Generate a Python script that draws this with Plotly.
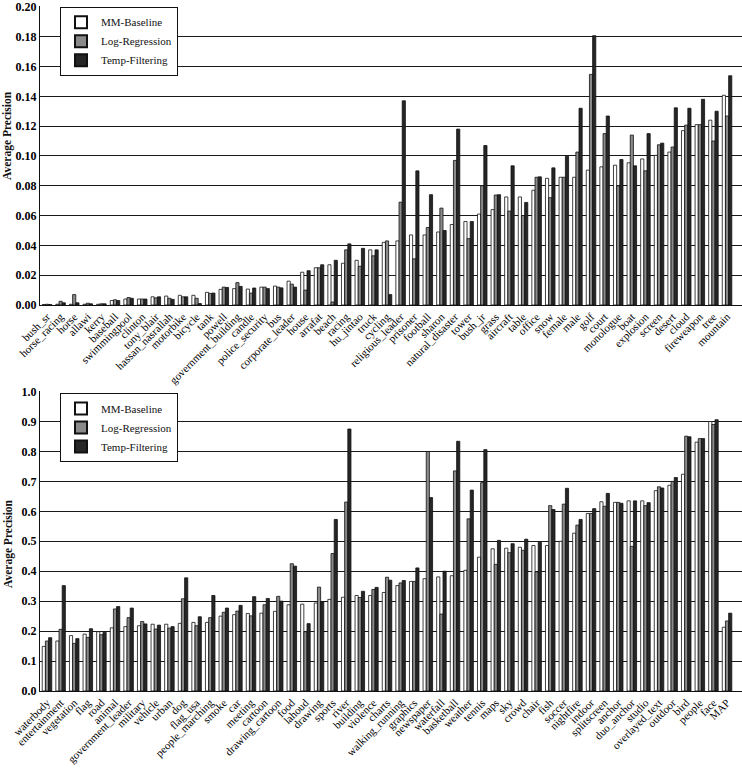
import plotly.graph_objects as go

top_cats = ["bush_sr","horse_racing","horse","allawi","kerry","baseball","swimmingpool","clinton","tony_blair",
            "hassan_nasrallah","motorbike","bicycle","tank","powell","government_building","candle","police_security",
            "bus","corporate_leader","house","arrafat","beach","racing","hu_jintao","truck","cycling","religious_leader",
            "prisoner","football","sharon","natural_disaster","tower","bush_jr","grass","aircraft","table","office",
            "snow","female","male","golf","court","monologue","boat","explosion","screen","desert","cloud",
            "fireweapon","tree","mountain"]
top_mm = [0.0003,0.0005,0.0005,0.0005,0.0005,0.003,0.004,0.004,0.0055,0.006,0.0065,0.0065,0.0085,0.0105,0.011,
          0.0107,0.012,0.0127,0.016,0.022,0.025,0.027,0.028,0.030,0.037,0.042,0.043,0.047,0.047,0.049,0.054,0.056,
          0.061,0.064,0.0725,0.0725,0.077,0.085,0.0857,0.0857,0.0905,0.0927,0.0938,0.0954,0.098,0.1004,0.1026,
          0.117,0.121,0.124,0.1407]
top_lr = [0.0005,0.0025,0.007,0.0012,0.0008,0.0035,0.005,0.004,0.0048,0.0045,0.0055,0.0045,0.0078,0.012,0.015,
          0.008,0.012,0.012,0.014,0.010,0.025,0.002,0.037,0.026,0.033,0.043,0.069,0.031,0.052,0.065,0.097,0.0445,
          0.080,0.0738,0.063,0.060,0.0857,0.072,0.0857,0.1026,0.1547,0.115,0.080,0.114,0.090,0.1075,0.106,0.1207,
          0.121,0.110,0.1268]
top_tf = [0.0003,0.0015,0.0015,0.0008,0.0008,0.003,0.0045,0.004,0.0055,0.0038,0.0055,0.001,0.008,0.0118,0.0125,
          0.0114,0.011,0.0115,0.012,0.023,0.027,0.030,0.041,0.038,0.037,0.007,0.137,0.090,0.074,0.050,0.118,0.056,
          0.107,0.074,0.0934,0.0688,0.086,0.092,0.0998,0.132,0.1807,0.1268,0.0976,0.0934,0.115,0.1086,0.1323,
          0.132,0.138,0.130,0.1538]

bot_cats = ["waterbody","entertainment","vegetation","flag","road","animal","government_leader","military","vehicle",
            "urban","dog","flag_usa","people_marching","smoke","car","meeting","cartoon","drawing_cartoon","food",
            "lahoud","drawing","sports","river","building","violence","charts","walking_running","graphics",
            "newspaper","waterfall","basketball","weather","tennis","maps","sky","crowd","chair","fish","soccer",
            "nightfire","indoor","splitscreen","anchor","duo_anchor","studio","overlayed_text","outdoor","bird",
            "people","face","MAP"]
bot_mm = [0.149,0.167,0.185,0.190,0.198,0.211,0.215,0.218,0.223,0.223,0.226,0.229,0.229,0.250,0.255,0.259,0.260,
          0.266,0.288,0.290,0.294,0.306,0.313,0.319,0.319,0.329,0.352,0.366,0.375,0.381,0.385,0.403,0.447,0.475,
          0.477,0.480,0.486,0.486,0.500,0.527,0.593,0.632,0.630,0.635,0.635,0.669,0.687,0.724,0.831,0.900,0.213]
bot_lr = [0.167,0.206,0.159,0.179,0.188,0.274,0.245,0.232,0.207,0.210,0.308,0.218,0.245,0.263,0.267,0.251,0.288,
          0.316,0.425,0.198,0.347,0.459,0.631,0.312,0.339,0.380,0.361,0.366,0.800,0.257,0.735,0.575,0.696,0.423,
          0.462,0.470,0.398,0.619,0.624,0.554,0.593,0.617,0.630,0.483,0.619,0.682,0.700,0.851,0.843,0.890,0.234]
bot_tf = [0.178,0.352,0.175,0.208,0.196,0.282,0.277,0.224,0.220,0.215,0.378,0.248,0.319,0.277,0.286,0.315,0.309,
          0.300,0.417,0.225,0.298,0.573,0.875,0.333,0.346,0.370,0.369,0.411,0.646,0.400,0.834,0.671,0.806,0.503,
          0.492,0.507,0.497,0.606,0.677,0.573,0.609,0.660,0.627,0.635,0.629,0.678,0.713,0.849,0.843,0.906,0.260]

series_names = ["MM-Baseline", "Log-Regression", "Temp-Filtering"]
colors = ["#ffffff", "#8a8a8a", "#262626"]
FONT = "Liberation Serif"

fig = go.Figure()
for name, col, vals in zip(series_names, colors, [top_mm, top_lr, top_tf]):
    fig.add_trace(go.Bar(x=top_cats, y=vals, name=name, marker=dict(color=col, line=dict(color="#111", width=0.8)),
                         xaxis="x", yaxis="y", legend="legend"))
for name, col, vals in zip(series_names, colors, [bot_mm, bot_lr, bot_tf]):
    fig.add_trace(go.Bar(x=bot_cats, y=vals, name=name, marker=dict(color=col, line=dict(color="#111", width=0.8)),
                         xaxis="x2", yaxis="y2", legend="legend2"))

xcommon = dict(tickangle=-45, tickfont=dict(family=FONT, size=11, color="#000"), showgrid=False,
               showline=True, linecolor="#111", linewidth=1.2, range=[-0.515, 51.1], ticks="", automargin=False,
               dtick=1, tickmode="linear")
ycommon = dict(showgrid=True, gridcolor="#1a1a1a", gridwidth=1.3, showline=True, linecolor="#111", linewidth=1.2,
               tickfont=dict(family=FONT, size=12, color="#000", weight="bold"), zeroline=False, automargin=False,
               ticks="", ticklabeloverflow="allow")

legcommon = dict(x=0.0285, xanchor="left", yanchor="top", bgcolor="white", bordercolor="#111", borderwidth=1,
                 font=dict(family=FONT, size=11, color="#111"), itemsizing="constant", tracegroupgap=0,
                 itemwidth=30)

# plot area: top panel y 6..305 px, bottom panel y 391..691 px
fig.update_layout(
    width=742, height=768, margin=dict(l=40, r=0, t=6, b=77),
    paper_bgcolor="white", plot_bgcolor="white",
    barmode="group", bargap=0.3, bargroupgap=0.0,
    xaxis=dict(domain=[0, 1], anchor="y", **xcommon),
    yaxis=dict(domain=[0.5635, 1.0], anchor="x", range=[0, 0.2006], dtick=0.02, tickformat=".2f", **ycommon),
    xaxis2=dict(domain=[0, 1], anchor="y2", **xcommon),
    yaxis2=dict(domain=[0, 0.4380], anchor="x2", range=[0, 1.002], dtick=0.1, tickformat=".1f", **ycommon),
    legend=dict(y=0.999, **legcommon),
    legend2=dict(y=0.435, **legcommon),
    showlegend=True,
    annotations=[
        dict(text="<b>Average Precision</b>", textangle=-90, xref="paper", yref="paper", x=-0.0456, y=0.8117,
             showarrow=False, font=dict(family=FONT, size=11.5, color="#111"), xanchor="center", yanchor="middle"),
        dict(text="<b>Average Precision</b>", textangle=-90, xref="paper", yref="paper", x=-0.0456, y=0.216,
             showarrow=False, font=dict(family=FONT, size=11.5, color="#111"), xanchor="center", yanchor="middle"),
    ],
)

fig.write_html("out.html")
